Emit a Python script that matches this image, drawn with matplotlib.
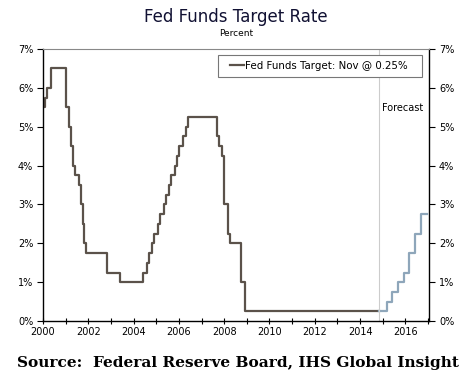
import matplotlib.pyplot as plt
from matplotlib.patches import Rectangle
from matplotlib.ticker import MultipleLocator, FuncFormatter

# month-end fed funds target, Jan 2000 .. Nov 2014 (percent)
rate_2000 = [5.5, 5.75, 6.0, 6.0, 6.5, 6.5, 6.5, 6.5, 6.5, 6.5, 6.5, 6.5]
rate_2001 = [5.5, 5.5, 5.0, 4.5, 4.0, 3.75, 3.75, 3.5, 3.0, 2.5, 2.0, 1.75]
rate_2002 = [1.75] * 10 + [1.25, 1.25]
rate_2003 = [1.25] * 5 + [1.0] * 7
rate_2004 = [1.0] * 5 + [1.25, 1.25, 1.5, 1.75, 1.75, 2.0, 2.25]
rate_2005 = [2.25, 2.5, 2.75, 2.75, 3.0, 3.25, 3.25, 3.5, 3.75, 3.75, 4.0, 4.25]
rate_2006 = [4.5, 4.5, 4.75, 4.75, 5.0] + [5.25] * 7
rate_2007 = [5.25] * 8 + [4.75, 4.5, 4.5, 4.25]
rate_2008 = [3.0, 3.0, 2.25, 2.0, 2.0, 2.0, 2.0, 2.0, 2.0, 1.0, 1.0, 0.25]
rate_2009_2014 = [0.25] * (12 * 6 - 1)

history = (rate_2000 + rate_2001 + rate_2002 + rate_2003 + rate_2004 +
           rate_2005 + rate_2006 + rate_2007 + rate_2008 + rate_2009_2014)
history_x = [2000 + i / 12 for i in range(len(history))]

# forecast path (step dates, percent)
forecast_x = [2014.83, 2015.17, 2015.42, 2015.67, 2015.92, 2016.17, 2016.42, 2016.67, 2016.97]
forecast = [0.25, 0.5, 0.75, 1.0, 1.25, 1.75, 2.25, 2.75, 2.75]

forecast_start = 2014.83

fig = plt.figure(figsize=(4.67, 3.80), dpi=100)
ax = fig.add_axes([0.092, 0.155, 0.827, 0.716])

# join the last history point onto the forecast
ax.step(history_x + [forecast_start], history + [history[-1]], where='post',
        color='#5b524a', lw=1.6, label='Fed Funds Target: Nov @ 0.25%')
ax.step(forecast_x, forecast, where='post', color='#8ea6ba', lw=1.6)

ax.axvline(forecast_start, color='#cccccc', lw=0.8)
ax.text(forecast_start + 0.15, 5.48, 'Forecast', fontsize=7, va='center', ha='left')

ax.set_xlim(2000, 2017.05)
ax.set_ylim(0, 7)
ax.xaxis.set_major_locator(MultipleLocator(2))
ax.xaxis.set_minor_locator(MultipleLocator(1))
ax.yaxis.set_major_locator(MultipleLocator(1))
ax.yaxis.set_major_formatter(FuncFormatter(lambda v, p: '%d%%' % v))

ax.tick_params(axis='x', which='both', direction='inout', length=5, width=0.8,
               labelsize=7, pad=2)
ax.tick_params(axis='y', direction='out', length=4, width=0.8, labelsize=7,
               left=True, right=True, labelleft=True, labelright=True, pad=3)

for s in ['left', 'right', 'bottom']:
    ax.spines[s].set_color('black')
    ax.spines[s].set_linewidth(1.0)
ax.spines['top'].set_color('#888888')
ax.spines['top'].set_linewidth(0.8)

# legend box drawn by hand so the padding matches
ax.add_patch(Rectangle((0.453, 0.897), 0.529, 0.081, transform=ax.transAxes,
                       fill=True, facecolor='white', edgecolor='#777777',
                       lw=0.8, zorder=4))
leg = ax.legend(loc='center left', bbox_to_anchor=(0.485, 0.9375), fontsize=7.4,
                frameon=False, handlelength=1.35, handletextpad=0.1,
                borderpad=0, borderaxespad=0)
leg.set_zorder(5)

fig.text(0.505, 0.955, 'Fed Funds Target Rate', ha='center', va='center',
         fontsize=12, color='#111133')
fig.text(0.505, 0.912, 'Percent', ha='center', va='center', fontsize=6.5)
fig.text(0.036, 0.045, 'Source:  Federal Reserve Board, IHS Global Insight',
         ha='left', va='center', fontsize=11.1, fontweight='bold',
         family='DejaVu Serif')

fig.savefig('out.png', dpi=100)
